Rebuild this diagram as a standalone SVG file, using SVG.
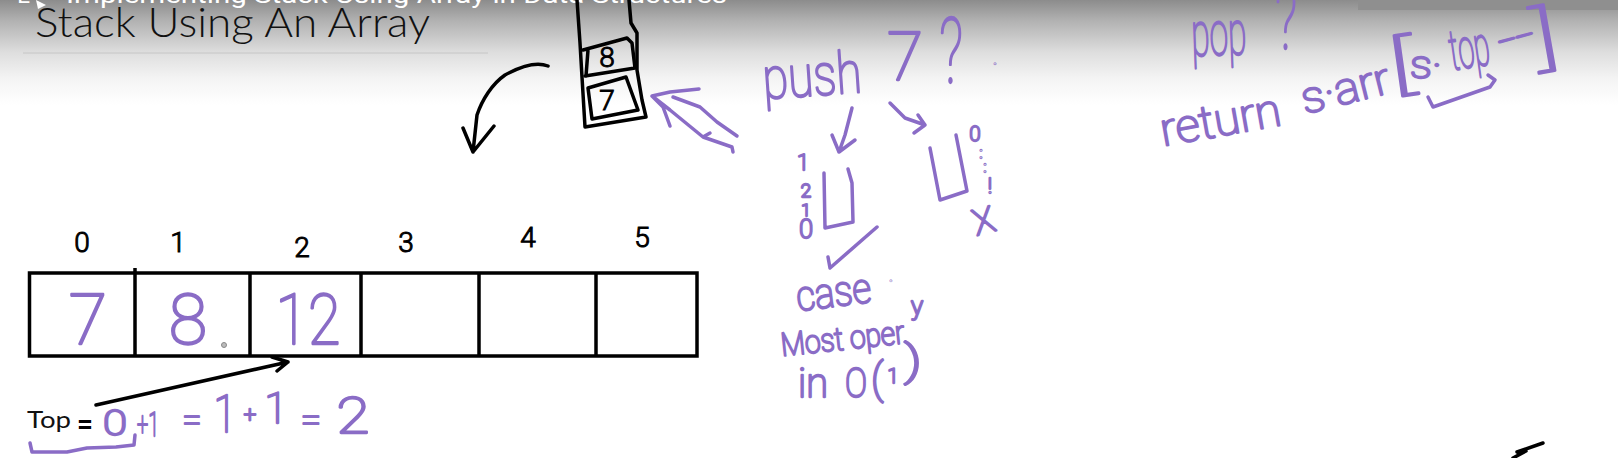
<svg xmlns="http://www.w3.org/2000/svg" width="1618" height="458" viewBox="0 0 1618 458">
<defs>
<linearGradient id="fade" x1="0" y1="0" x2="0" y2="1">
<stop offset="0" stop-color="#8c8c8c"/><stop offset="0.2" stop-color="#b2b2b2"/><stop offset="0.5" stop-color="#dedede"/><stop offset="0.75" stop-color="#f4f4f4"/><stop offset="1" stop-color="#ffffff"/>
</linearGradient>
</defs>
<style>
.ink{fill:none;stroke:#000;stroke-width:3.5;stroke-linecap:round;stroke-linejoin:round}
.pen{fill:none;stroke:#8a6cc6;stroke-width:3.5;stroke-linecap:round;stroke-linejoin:round}
.cell{fill:none;stroke:#000;stroke-width:3.5}
.hand{font-family:Roboto,"Liberation Sans",sans-serif;font-weight:100;fill:#8a6cc6;stroke:#8a6cc6;stroke-width:2.300;stroke-linejoin:round}
.idx{font-family:Roboto,"Liberation Sans",sans-serif;font-weight:300;fill:#000;stroke:#000;stroke-width:1;font-size:28px;text-anchor:middle}
.c{text-anchor:middle}
</style>
<rect width="1618" height="458" fill="#fff"/>
<rect width="1618" height="105" fill="url(#fade)"/>
<rect x="1358" y="0" width="260" height="10" fill="#8f8f8f"/>

<g id="header">
<text x="17" y="3" font-family="Roboto,sans-serif" font-size="24" fill="#fff">L-</text>
<polygon points="36,0 46,5 38,9" fill="#fff"/>
<text x="66" y="3" font-family="Roboto,sans-serif" font-size="24" fill="#fff" textLength="661" lengthAdjust="spacingAndGlyphs">Implementing Stack Using Array in Data Structures</text>
</g>
<g id="title">
<text x="35" y="37" font-family="Lato,sans-serif" font-size="41" font-weight="300" fill="#111" textLength="395" lengthAdjust="spacingAndGlyphs">Stack Using An Array</text>
<line x1="23" y1="53" x2="488" y2="53" stroke="#c6c6c6" stroke-width="1"/>
</g>

<g id="stack">
<path class="ink" d="M577 0L580 43L582 77L585 127L646 117L642 100L637 70L637 33L631 23L629 0"/>
<path class="ink" d="M583 50L627 38L632 43L635 68L585 76M588 50L586 76"/>
<path class="ink" d="M588 88L626 77L638 110L592 119Z"/>
<text class="idx" x="607" y="67">8</text>
<text class="idx" x="607" y="110">7</text>
</g>

<g id="array">
<rect class="cell" x="29.500" y="273" width="667.500" height="83"/>
<path class="cell" d="M135 268V356M250 273V356M361 273V356M479 273V356M596 273V356"/>
<text class="idx" x="82" y="252">0</text>
<text class="idx" x="178" y="252">1</text>
<text class="idx" x="302" y="257">2</text>
<text class="idx" x="406" y="252">3</text>
<text class="idx" x="528" y="247">4</text>
<text class="idx" x="642" y="247">5</text>
<text class="hand c" x="88" y="344" font-size="70">7</text>
<text class="hand c" x="188" y="344" font-size="70">8</text>
<text class="hand c" x="308" y="344" font-size="70" textLength="65" lengthAdjust="spacingAndGlyphs">12</text>
<circle cx="224" cy="345" r="2.500" fill="#bbb" stroke="#888" stroke-width="1"/>
</g>

<g id="top-label">
<text x="27" y="428" font-family="Lato,sans-serif" font-size="23" fill="#111" textLength="44" lengthAdjust="spacingAndGlyphs">Top</text>
<text x="77" y="433" font-family="Roboto,sans-serif" font-size="27" font-weight="700" fill="#000" textLength="16" lengthAdjust="spacingAndGlyphs">=</text>
<text class="hand c" x="115" y="435" font-size="35" textLength="24" lengthAdjust="spacingAndGlyphs">0</text>
<text class="hand" x="137" y="436" font-size="34" textLength="22" lengthAdjust="spacingAndGlyphs">+1</text>
<text class="hand c" x="192" y="431" font-size="34" textLength="19" lengthAdjust="spacingAndGlyphs">=</text>
<text class="hand c" x="225" y="432" font-size="52" textLength="23" lengthAdjust="spacingAndGlyphs">1</text>
<text class="hand c" x="250" y="422" font-size="22">+</text>
<text class="hand c" x="276" y="423" font-size="42">1</text>
<text class="hand c" x="311" y="431" font-size="34" textLength="20" lengthAdjust="spacingAndGlyphs">=</text>
<text class="hand c" x="353" y="433" font-size="50" textLength="33" lengthAdjust="spacingAndGlyphs">2</text>
</g>

<g id="push">
<text class="hand" x="0" y="0" font-size="58" textLength="99" lengthAdjust="spacingAndGlyphs" transform="translate(764 99) rotate(-4)">push</text>
<text class="hand c" x="905" y="80" font-size="66">7</text>
<text class="hand c" x="951" y="83" font-size="90" textLength="24" lengthAdjust="spacingAndGlyphs">?</text>
<text class="hand" x="994" y="64" font-size="10">.</text>
</g>

<g id="bucket-ok">
<path class="pen" d="M824 173L825 228L853 222L852 183L848 169"/>
<text class="hand c" x="803" y="170" font-size="22">1</text>
<text class="hand c" x="806" y="197" font-size="19">2</text>
<text class="hand c" x="806" y="216" font-size="17">1</text>
<text class="hand c" x="806" y="238" font-size="25">0</text>
<path class="pen" d="M877 227L830 268L828 257"/>
<text class="hand" font-size="42" textLength="75" lengthAdjust="spacingAndGlyphs" transform="translate(798 311) rotate(-7)">case</text>
<text class="hand" x="890" y="281" font-size="9">.</text>
<text class="hand" font-size="32" textLength="124" lengthAdjust="spacingAndGlyphs" transform="translate(782 356) rotate(-6)">Most oper</text>
<text class="hand" x="911" y="315" font-size="25">y</text>
<text class="hand" x="798" y="397" font-size="40" textLength="30" lengthAdjust="spacingAndGlyphs">in</text>
<text class="hand" x="845" y="397" font-size="40" textLength="22" lengthAdjust="spacingAndGlyphs">O</text>
<text class="hand" x="871" y="393" font-size="42">(</text>
<text class="hand c" x="893" y="383" font-size="20">1</text>
<text class="hand" x="904" y="375" font-size="42" textLength="18" lengthAdjust="spacingAndGlyphs">)</text>
</g>

<g id="bucket-x">
<path class="pen" d="M930 148L940 200L967 191L956 135"/>
<text class="hand c" x="975" y="141" font-size="20">0</text>
<text class="hand c" x="981" y="158" font-size="14">:</text>
<text class="hand c" x="985" y="172" font-size="14">:</text>
<text class="hand c" x="990" y="193" font-size="20">!</text>
<text class="hand c" font-size="36" transform="translate(987 233) rotate(-15)">X</text>
</g>

<g id="pop">
<text class="hand" font-size="62" textLength="55" lengthAdjust="spacingAndGlyphs" transform="translate(1192 56) rotate(-2)">pop</text>
<text class="hand c" x="1286" y="49" font-size="85" textLength="22" lengthAdjust="spacingAndGlyphs">?</text>
<text class="hand" font-size="46" textLength="122" lengthAdjust="spacingAndGlyphs" transform="translate(1163 146) rotate(-10)">return</text>
<text class="hand" font-size="44" textLength="90" lengthAdjust="spacingAndGlyphs" transform="translate(1305 114) rotate(-14)">s·arr</text>
<text class="hand" font-size="64" textLength="24" lengthAdjust="spacingAndGlyphs" transform="translate(1392 88) rotate(-8)">[</text>
<text class="hand" font-size="38" textLength="32" lengthAdjust="spacingAndGlyphs" transform="translate(1410 78)">s·</text>
<text class="hand" font-size="56" textLength="40" lengthAdjust="spacingAndGlyphs" transform="translate(1452 70) rotate(-8)">top</text>
<text class="hand" font-size="34" textLength="36" lengthAdjust="spacingAndGlyphs" transform="translate(1501 53) rotate(-15)">--</text>
<text class="hand" font-size="70" textLength="24" lengthAdjust="spacingAndGlyphs" transform="translate(1538 63) rotate(-10)">]</text>
</g>

<g id="connectors">
<path class="ink" d="M548 66C538 62 525 64 505 75C492 84 482 100 477 115L473 152M463 128L473 152L494 126"/>
<path class="ink" d="M96 405L288 362M272 357L288 362L277 371"/>
<path class="ink" d="M1517 452L1543 443M1513 458L1526 451"/>
<path class="pen" d="M699 89L670 92L652 96L663 107L670 126M652 96L670 110L703 137L732 147L733 152M673 97L700 107L717 122L737 136M703 137L710 133"/>
<path class="pen" d="M852 108L845 135L839 152M832 135L839 152L855 140"/>
<path class="pen" d="M890 103L905 118L925 125M914 133L925 125L918 115"/>
<path class="pen" d="M30 443L32 452L67 452L87 448L116 447L134 445L135 435"/>
<path class="pen" d="M1428 97L1433 107L1490 87L1495 80L1488 75"/>
</g>
</svg>
